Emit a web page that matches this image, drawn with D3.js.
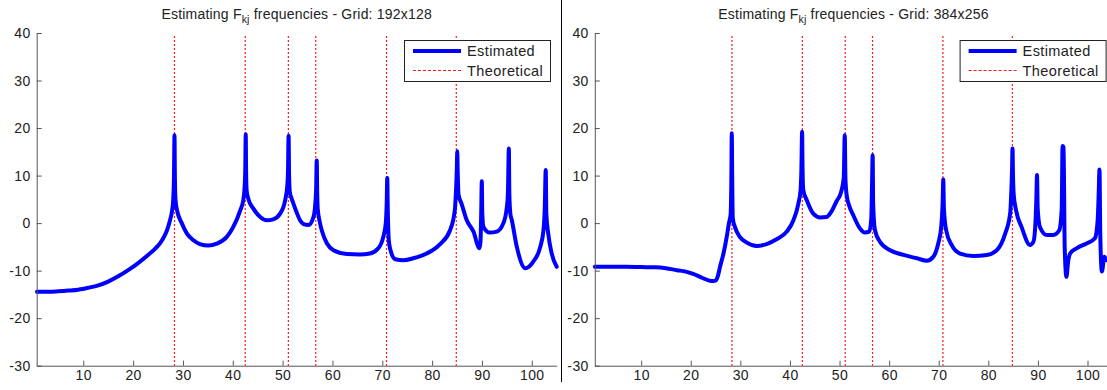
<!DOCTYPE html>
<html>
<head>
<meta charset="utf-8">
<script src="https://cdn.jsdelivr.net/npm/d3@7"></script>
<style>
  html, body { margin: 0; padding: 0; background: #fff; }
  svg { display: block; }
  text { font-family: "Liberation Sans", Arial, sans-serif; }
</style>
</head>
<body>
<svg id="chart" width="1107" height="390"></svg>
<script>
// ---- data -------------------------------------------------------------
const xTicks = [10, 20, 30, 40, 50, 60, 70, 80, 90, 100];
const yTicks = [-30, -20, -10, 0, 10, 20, 30, 40];
const xDomain = [0.65, 105];
const yDomain = [-30, 40];

// theoretical F_kj frequencies (same for both grids)
const theoretical = [28.3, 42.5, 51.15, 56.65, 70.85, 84.85];

const legendLabels = ["Estimated", "Theoretical"];
const gridLabels = ["192x128", "384x256"];

// estimated spectrum, grid 192x128
const freqCoarse = [0.7, 3, 5, 7, 9, 11, 13, 15, 17, 19, 21, 23, 24.5, 25.5, 26.3, 26.9, 27.4, 27.8, 28.05, 28.2, 28.3, 28.38, 28.5, 28.75,
  29.75, 30.8, 32.1, 33.4, 35.1, 36.8, 38.8, 40.1, 41.5, 42.1, 42.4, 42.5, 42.6, 42.67, 42.77, 43.1,
  44.1, 45.5, 46.8, 48.1, 49.5, 50.5, 50.95, 51.08, 51.2, 51.3, 51.45, 51.8, 52.2, 52.8, 53.5, 54.2, 55.2,
  56.2, 56.55, 56.72, 56.85, 56.93, 57.05, 57.4, 57.85, 58.9, 60.2, 62.9, 65.5, 67.5, 69.2, 70.2, 70.7,
  70.88, 71.0, 71.1, 71.3, 71.6, 72.6, 74.25, 76.2, 78.9, 81.6, 83.6, 84.55, 84.8, 84.95, 85.05, 85.13,
  85.3, 85.9, 86.95, 88.3, 89.5, 89.7, 89.85, 89.97, 90.07, 90.3, 91.6, 92.95, 94.3, 94.95, 95.2, 95.4,
  95.5, 95.7, 96.0, 97.0, 98.7, 100.3, 101.7, 102.35, 102.6, 102.8, 102.92, 103.3, 104.0, 105.0];
const estCoarse = [-14.45, -14.45, -14.35, -14.2, -14.0, -13.6, -13.1, -12.3, -11.2, -9.9, -8.4, -6.7, -5.3, -4.1, -2.7, -1.2, 0.6, 2.5, 5, 10, 18.5, 10, 5, 3.0,
  0, -2.2, -3.6, -4.4, -4.7, -4.3, -2.9, -0.8, 2.7, 4.8, 8, 11, 18.7, 11, 7, 5.2,
  3.1, 1.3, 0.6, 0.8, 2.0, 4.8, 8, 11, 18.4, 10, 6.5, 5.2, 4.0, 2.3, 0.6, -0.2, -0.4,
  1.3, 4, 7, 13.2, 7, 3, 0.5, -1.5, -4.3, -5.7, -6.5, -6.6, -6.4, -5.3, -2.9, 0,
  4, 9.5, 3, -3.5, -5.5, -7.6, -7.8, -7.4, -6.4, -4.4, -1.5, 2.7, 7, 11, 15.1, 11,
  6, 4.1, 0.6, -1.8, -5.3, -4, 2, 8.8, 2, -0.8, -2.0, -1.8, 0, 3, 6, 15.7,
  6, 2, 0.6, -5.0, -9.5, -8.1, -5.0, -1.5, 3, 11.2, 2, -2.2, -6.4, -9.2];

// estimated spectrum, grid 384x256
const freqFine = [0.65, 4, 7, 10, 13, 15, 17.2, 19, 20.5, 22.5, 24.2, 25.0, 25.5, 25.9, 26.6, 27.25, 27.7, 28.05, 28.17, 28.27,
  28.37, 28.47, 28.9, 29.9, 31.3, 33.3, 35.3, 37.3, 39.35, 40.7, 41.7, 42.15, 42.3, 42.45, 42.55, 42.68, 43.4,
  44.7, 46.1, 47.4, 48.4, 49.4, 50.3, 50.85, 51.05, 51.2, 51.45, 51.9, 52.8, 54.1, 55.1, 56.0, 56.4, 56.55, 56.68,
  56.78, 57.15, 58.15, 60.2, 62.9, 65.6, 67.6, 68.9, 69.9, 70.5, 70.78, 70.92, 71.05, 71.5, 72.6, 74.3,
  76.95, 79.7, 81.7, 83.4, 84.4, 84.65, 84.78, 84.88, 84.98, 85.12, 85.6, 86.7, 88.4, 89.1, 89.5, 89.68,
  89.82, 89.96, 90.4, 91.8, 93.1, 94.3, 94.8, 94.97, 95.17, 95.4, 95.75, 96.1, 96.5, 97.8, 99.8, 101.5,
  102.05, 102.25, 102.42, 102.57, 102.9, 103.4, 103.9, 105];
const estFine = [-9.2, -9.2, -9.2, -9.25, -9.3, -9.5, -9.9, -10.2, -10.7, -11.6, -12.2, -12.1, -11, -9.2, -6.4, -2.9, 0, 2, 8, 18.9,
  8, 1, -0.8, -2.9, -4.1, -4.8, -4.4, -3.4, -1.8, 0.6, 4.1, 7, 11, 19.2, 11, 7, 4.8,
  2.0, 1.2, 1.3, 2.5, 4.6, 6.5, 9.5, 18.5, 9, 5.8, 3.8, 1.6, -1.1, -2.0, -1.8, 1, 8, 14.3,
  4, -1.5, -3.9, -5.7, -6.7, -7.4, -7.9, -7.1, -4.3, -0.8, 4, 9.2, 3, -1.5, -4.6, -6.4,
  -6.9, -6.7, -5.7, -2.2, 2.0, 7, 11, 15.7, 10, 6, 2.7, -0.8, -4.6, -3.9, 0, 5,
  10.1, 3, -0.8, -2.5, -2.5, -1.5, 3, 16.2, 16, -5, -11.3, -8, -6.4, -5.3, -4.3, -3.2,
  0.6, 6, 11.3, -2, -10.2, -7.1, -7.8, -7.5];

// ---- layout -----------------------------------------------------------
const svg = d3.select("#chart");
const yTop = 33, yBottom = 365.7;
const panels = [
  { grid: gridLabels[0], freq: freqCoarse, est: estCoarse, left: 36.7, right: 556.7 },
  { grid: gridLabels[1], freq: freqFine, est: estFine, left: 594.8, right: 1112.3 }
];

const axisColor = "#555";
const labelColor = "#222";
const fontFamily = "'Liberation Sans', Arial, sans-serif";

panels.forEach(p => {
  const x = d3.scaleLinear().domain(xDomain).range([p.left, p.right]);
  const y = d3.scaleLinear().domain(yDomain).range([yBottom, yTop]);
  const g = svg.append("g");

  // theoretical frequencies
  g.append("g").selectAll("line").data(theoretical).join("line")
    .attr("x1", d => x(d)).attr("x2", d => x(d))
    .attr("y1", y(40) + 3).attr("y2", y(-30))
    .attr("stroke", "#ff1a1a").attr("stroke-width", 1.2)
    .attr("stroke-dasharray", "2,2");

  // estimated spectrum
  const pts = d3.zip(p.freq, p.est);
  g.append("path").datum(pts)
    .attr("fill", "none").attr("stroke", "#0000ff").attr("stroke-width", 4)
    .attr("stroke-linejoin", "round").attr("stroke-linecap", "round")
    .attr("d", d3.line().x(d => x(d[0])).y(d => y(d[1])).curve(d3.curveMonotoneX));

  // axes
  const ax = g.append("g").attr("transform", `translate(0,${yBottom})`)
    .call(d3.axisBottom(x).tickValues(xTicks).tickSizeInner(-5).tickSizeOuter(0).tickPadding(4));
  const ay = g.append("g").attr("transform", `translate(${p.left},0)`)
    .call(d3.axisLeft(y).tickValues(yTicks).tickSizeInner(-5).tickSizeOuter(0).tickPadding(6)
      .tickFormat(d => String(d)));
  [ax, ay].forEach(a => {
    a.select(".domain").attr("stroke", axisColor);
    a.selectAll(".tick line").attr("stroke", axisColor);
    a.selectAll(".tick text").attr("fill", labelColor).style("font-size", "14px")
      .style("letter-spacing", "0.4px").style("font-family", fontFamily);
  });

  // title
  const t = g.append("text").attr("x", (p.left + p.right) / 2).attr("y", 18.5)
    .attr("text-anchor", "middle").attr("fill", labelColor)
    .style("font-size", "14px").style("letter-spacing", "0.2px");
  t.append("tspan").text("Estimating F");
  t.append("tspan").attr("dy", 4).style("font-size", "10.5px").text("kj");
  t.append("tspan").attr("dy", -4).text(" frequencies - Grid: " + p.grid);

  // legend
  const lx = p.right - 152.7, ly = 40;
  const lg = g.append("g").attr("transform", `translate(${lx},${ly})`);
  lg.append("rect").attr("x", 0.5).attr("y", 0.5).attr("width", 146).attr("height", 41)
    .attr("fill", "#fff").attr("stroke", "#222");
  lg.append("line").attr("x1", 9).attr("x2", 57).attr("y1", 11).attr("y2", 11)
    .attr("stroke", "#0000ff").attr("stroke-width", 4);
  lg.append("line").attr("x1", 9).attr("x2", 57).attr("y1", 30.5).attr("y2", 30.5)
    .attr("stroke", "#ff1a1a").attr("stroke-width", 1.2).attr("stroke-dasharray", "3,2");
  lg.selectAll("text.lab").data(legendLabels).join("text").attr("class", "lab")
    .attr("x", 63).attr("y", (d, i) => 16 + i * 19.5)
    .attr("fill", labelColor).style("font-size", "14.5px").style("letter-spacing", "0.4px")
    .text(d => d);
});

// separator between the two figures
svg.append("line").attr("x1", 561.5).attr("x2", 561.5).attr("y1", 0).attr("y2", 382)
  .attr("stroke", "#000").attr("stroke-width", 1);
</script>
</body>
</html>
